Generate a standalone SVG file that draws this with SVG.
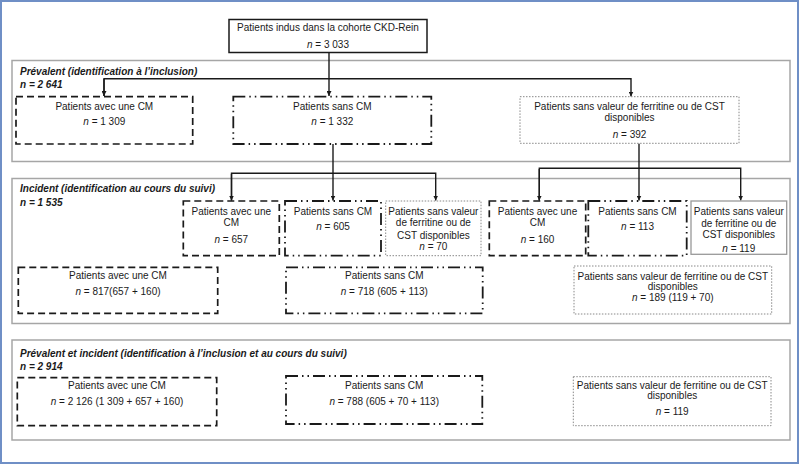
<svg xmlns="http://www.w3.org/2000/svg" width="800" height="465" viewBox="0 0 800 465">
<defs>
<marker id="ah" viewBox="0 0 10 10" refX="10" refY="5" markerWidth="5" markerHeight="5" orient="auto" markerUnits="userSpaceOnUse">
<path d="M0,0 L10,5 L0,10 z" fill="#1a1a1a"/>
</marker>
<style>
text{font-family:"Liberation Sans",Arial,sans-serif;font-size:10px;fill:#1a1a1a;text-anchor:middle}
.t{font-weight:bold;font-style:italic;text-anchor:start;font-size:10px}
.i{font-style:italic}
.sec{fill:none;stroke:#a6a6a6;stroke-width:1.5}
.solid{fill:#fff;stroke:#1a1a1a;stroke-width:1.5}
.dash{fill:#fff;stroke:#1a1a1a;stroke-width:1.7;stroke-dasharray:7 4}
.dd{fill:#fff;stroke:#1a1a1a;stroke-width:1.8;stroke-dasharray:12 4 1.5 4 1.5 4}
.dot{fill:#fff;stroke:#888;stroke-width:1;stroke-dasharray:1.5 1.5}
.gray{fill:#fff;stroke:#999;stroke-width:1.3}
.c{fill:none;stroke:#1a1a1a;stroke-width:1.4}
</style>
</defs>
<rect x="1" y="1" width="797" height="462" fill="#fff" stroke="#6f8fc6" stroke-width="2"/>

<g id="sec-prevalent">
<rect class="sec" x="12" y="60.5" width="778" height="101"/>
<text class="t" x="20" y="75">Prévalent (identification à l’inclusion)</text>
<text class="t" x="20" y="88">n = 2 641</text>
</g>
<g id="sec-incident">
<rect class="sec" x="12" y="178.5" width="778" height="145"/>
<text class="t" x="20" y="191.5">Incident (identification au cours du suivi)</text>
<text class="t" x="20" y="206">n = 1 535</text>
</g>
<g id="sec-both">
<rect class="sec" x="12" y="340" width="778" height="100"/>
<text class="t" x="20" y="357">Prévalent et incident (identification à l’inclusion et au cours du suivi)</text>
<text class="t" x="20" y="370">n = 2 914</text>
</g>

<g id="connectors">
<path class="c" d="M329,53 V96" marker-end="url(#ah)"/>
<path class="c" d="M104,96 V78.7 H631 V96.5" marker-end="url(#ah)"/>
<path class="c" d="M104,79 V96" marker-end="url(#ah)"/>
<path class="c" d="M333,144 V173.3"/>
<path class="c" d="M231.5,200.5 V173.3 H435.7 V200.5" marker-end="url(#ah)"/>
<path class="c" d="M231.5,174 V200.5" marker-end="url(#ah)"/>
<path class="c" d="M333,173 V200.5" marker-end="url(#ah)"/>
<path class="c" d="M639,143.5 V168.3"/>
<path class="c" d="M539.3,200.5 V168.3 H740.7 V200.5" marker-end="url(#ah)"/>
<path class="c" d="M539.3,169 V200.5" marker-end="url(#ah)"/>
<path class="c" d="M639,168 V200.5" marker-end="url(#ah)"/>
</g>

<g id="n-total">
<rect class="solid" x="229" y="19.5" width="198" height="33"/>
<text x="328" y="31">Patients indus dans la cohorte CKD-Rein</text>
<text x="328" y="47.5"><tspan class="i">n</tspan> = 3 033</text>
</g>

<g id="n-prev-cm">
<rect class="dash" x="16" y="96.7" width="176.7" height="47.3"/>
<text x="104.3" y="109.5">Patients avec une CM</text>
<text x="104.3" y="125"><tspan class="i">n</tspan> = 1 309</text>
</g>
<g id="n-prev-sans">
<rect class="dd" x="233.3" y="96.7" width="198" height="47.3"/>
<text x="332.3" y="109.5">Patients sans CM</text>
<text x="332.3" y="125"><tspan class="i">n</tspan> = 1 332</text>
</g>
<g id="n-prev-nv">
<rect class="dot" x="520" y="96.7" width="219" height="46.6"/>
<text x="629.5" y="110">Patients sans valeur de ferritine ou de CST</text>
<text x="629.5" y="121">disponibles</text>
<text x="629.5" y="137.5"><tspan class="i">n</tspan> = 392</text>
</g>

<g id="n-inc-cm-a">
<rect class="dash" x="183.3" y="201" width="96" height="54.7"/>
<text x="231.3" y="215">Patients avec une</text>
<text x="231.3" y="226">CM</text>
<text x="231.3" y="242.5"><tspan class="i">n</tspan> = 657</text>
</g>
<g id="n-inc-sans-a">
<rect class="dd" x="285" y="201" width="96" height="54.7"/>
<text x="333" y="215">Patients sans CM</text>
<text x="333" y="229.5"><tspan class="i">n</tspan> = 605</text>
</g>
<g id="n-inc-nv-a">
<rect class="dot" x="385.7" y="201" width="95.3" height="54.7"/>
<text x="433.4" y="215">Patients sans valeur</text>
<text x="433.4" y="226">de ferritine ou de</text>
<text x="433.4" y="238.5">CST disponibles</text>
<text x="433.4" y="250"><tspan class="i">n</tspan> = 70</text>
</g>
<g id="n-inc-cm-b">
<rect class="dash" x="489.3" y="201" width="96.4" height="54.7"/>
<text x="537.5" y="215">Patients avec une</text>
<text x="537.5" y="226">CM</text>
<text x="537.5" y="242.5"><tspan class="i">n</tspan> = 160</text>
</g>
<g id="n-inc-sans-b">
<rect class="dd" x="588.3" y="201" width="98.4" height="54.7"/>
<text x="637.5" y="215">Patients sans CM</text>
<text x="637.5" y="229.5"><tspan class="i">n</tspan> = 113</text>
</g>
<g id="n-inc-nv-b">
<rect class="gray" x="691" y="201" width="95.7" height="53.3"/>
<text x="738.8" y="215">Patients sans valeur</text>
<text x="738.8" y="226.5">de ferritine ou de</text>
<text x="738.8" y="238">CST disponibles</text>
<text x="738.8" y="251.5"><tspan class="i">n</tspan> = 119</text>
</g>

<g id="n-inc-cm-tot">
<rect class="dash" x="18.3" y="267.3" width="199.4" height="46"/>
<text x="118" y="278.5">Patients avec une CM</text>
<text x="118" y="295"><tspan class="i">n</tspan> = 817(657 + 160)</text>
</g>
<g id="n-inc-sans-tot">
<rect class="dd" x="286" y="267.3" width="196.7" height="46"/>
<text x="384.3" y="278.5">Patients sans CM</text>
<text x="384.3" y="295"><tspan class="i">n</tspan> = 718 (605 + 113)</text>
</g>
<g id="n-inc-nv-tot">
<rect class="dot" x="574" y="266" width="197.7" height="48"/>
<text x="672.8" y="279.5">Patients sans valeur de ferritine ou de CST</text>
<text x="672.8" y="290">disponibles</text>
<text x="672.8" y="300.5"><tspan class="i">n</tspan> = 189 (119 + 70)</text>
</g>

<g id="n-all-cm">
<rect class="dash" x="17.3" y="377.7" width="199.4" height="48"/>
<text x="117" y="388.5">Patients avec une CM</text>
<text x="117" y="405"><tspan class="i">n</tspan> = 2 126 (1 309 + 657 + 160)</text>
</g>
<g id="n-all-sans">
<rect class="dd" x="286" y="376" width="196.3" height="48"/>
<text x="384.2" y="388.5">Patients sans CM</text>
<text x="384.2" y="405"><tspan class="i">n</tspan> = 788 (605 + 70 + 113)</text>
</g>
<g id="n-all-nv">
<rect class="dot" x="573.3" y="376.7" width="197.7" height="49"/>
<text x="672.2" y="388.5">Patients sans valeur de ferritine ou de CST</text>
<text x="672.2" y="399">disponibles</text>
<text x="672.2" y="415"><tspan class="i">n</tspan> = 119</text>
</g>
</svg>
